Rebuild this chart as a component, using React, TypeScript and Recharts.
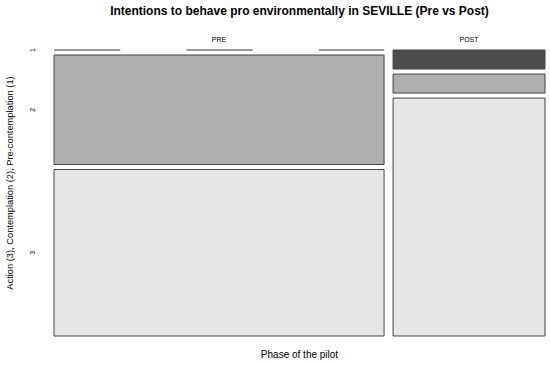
import React from "react";
import { ComposedChart, XAxis, YAxis, ReferenceArea, ReferenceLine, Label, Scatter } from "recharts";

// Data
const phases = ["PRE", "POST"];
const stages = ["1", "2", "3"]; // Pre-contemplation, Contemplation, Action
const preCounts = [0, 25, 38];
const postCounts = [2, 2, 25];
const stageColors = ["#4D4D4D", "#AEAEAE", "#E6E6E6"];

const counts = [preCounts, postCounts];
const X_GAP = 9 / 491;
const Y_GAP = 5 / 286;

const colTotals = counts.map((c) => c.reduce((a, b) => a + b, 0));
const grand = colTotals.reduce((a, b) => a + b, 0);

type Cell = { col: number; row: number; x1: number; x2: number; y1: number; y2: number; cx: number; cy: number; zero: boolean };
const cells: Cell[] = [];
const colCenters: number[] = [];
{
  let x = 0;
  counts.forEach((col, ci) => {
    const w = (1 - X_GAP * (counts.length - 1)) * (colTotals[ci] / grand);
    colCenters.push(x + w / 2);
    let y = 0;
    col.forEach((v, ri) => {
      const h = (1 - Y_GAP * (col.length - 1)) * (v / colTotals[ci]);
      cells.push({ col: ci, row: ri, x1: x, x2: x + w, y1: y, y2: y + h, cx: x + w / 2, cy: y + h / 2, zero: v === 0 });
      y += h + Y_GAP;
    });
    x += w + X_GAP;
  });
}
const firstColCells = cells.filter((c) => c.col === 0);
const yTicks = firstColCells.map((c) => c.cy);
const centers = cells.map((c) => ({ x: c.cx, y: c.cy }));

const FONT = "Liberation Sans, Arial, sans-serif";

const YTick = (props: any) => {
  const { x, y, index } = props;
  return (
    <text x={x} y={y} transform={`rotate(-90 ${x} ${y})`} textAnchor="middle" dy="0.35em" fontSize={7} fill="#000" fontFamily={FONT}>
      {stages[index]}
    </text>
  );
};

const XTick = (props: any) => {
  const { x, y, index } = props;
  return (
    <text x={x} y={y} textAnchor="middle" dy={-2} fontSize={7} fill="#000" fontFamily={FONT}>
      {phases[index]}
    </text>
  );
};

export default function App() {
  return (
    <div style={{ position: "absolute", left: 0, top: 0, width: 550, height: 365, background: "#fff" }}>
      <div
        style={{
          position: "absolute",
          left: 54,
          width: 491,
          top: 2.5,
          textAlign: "center",
          fontFamily: FONT,
          fontWeight: "bold",
          fontSize: 12,
          lineHeight: "16px",
          color: "#000",
        }}
      >
        Intentions to behave pro environmentally in SEVILLE (Pre vs Post)
      </div>
      <div
        style={{
          position: "absolute",
          left: 54,
          width: 491,
          top: 348,
          textAlign: "center",
          fontFamily: FONT,
          fontSize: 10,
          lineHeight: "14px",
          color: "#000",
        }}
      >
        Phase of the pilot
      </div>
      <div style={{ position: "absolute", left: 0, top: 0 }}>
        <ComposedChart width={550} height={365} margin={{ top: 35, right: 5, bottom: 29, left: 0 }}>
          <XAxis
            xAxisId="x"
            dataKey="x"
            orientation="top"
            type="number"
            domain={[0, 1]}
            ticks={colCenters}
            tick={<XTick />}
            tickLine={false}
            axisLine={false}
            height={15}
            tickMargin={0}
            interval={0}
            allowDataOverflow
          />
          <YAxis
            yAxisId="y"
            dataKey="y"
            type="number"
            domain={[0, 1]}
            reversed
            ticks={yTicks}
            tick={<YTick />}
            tickLine={false}
            axisLine={false}
            width={54}
            tickMargin={15}
            interval={0}
            allowDataOverflow
          >
            <Label
              content={({ viewBox }: any) => {
                const cx = 10;
                const cy = viewBox.y + viewBox.height / 2 - 10;
                return (
                  <text x={cx} y={cy} transform={`rotate(-90 ${cx} ${cy})`} textAnchor="middle" dy="0.35em" fontSize={9.3} fontFamily={FONT} fill="#000">
                    Action (3), Contemplation (2), Pre-contemplation (1)
                  </text>
                );
              }}
            />
          </YAxis>
          <Scatter xAxisId="x" yAxisId="y" data={centers} dataKey="y" fill="none" shape={() => <g />} isAnimationActive={false} />
          {cells
            .filter((c) => !c.zero)
            .map((c) => (
              <ReferenceArea
                key={`a-${c.col}-${c.row}`}
                xAxisId="x"
                yAxisId="y"
                x1={c.x1}
                x2={c.x2}
                y1={c.y1}
                y2={c.y2}
                fill={stageColors[c.row]}
                fillOpacity={1}
                stroke="#444"
                strokeWidth={1}
              />
            ))}
          {cells
            .filter((c) => c.zero)
            .map((c) => (
              <ReferenceLine
                key={`z-${c.col}-${c.row}`}
                xAxisId="x"
                yAxisId="y"
                segment={[
                  { x: c.x1, y: c.y1 },
                  { x: c.x2, y: c.y1 },
                ]}
                stroke="#999"
                strokeWidth={2}
                strokeDasharray="66.2 66.2"
              />
            ))}
        </ComposedChart>
      </div>
    </div>
  );
}
